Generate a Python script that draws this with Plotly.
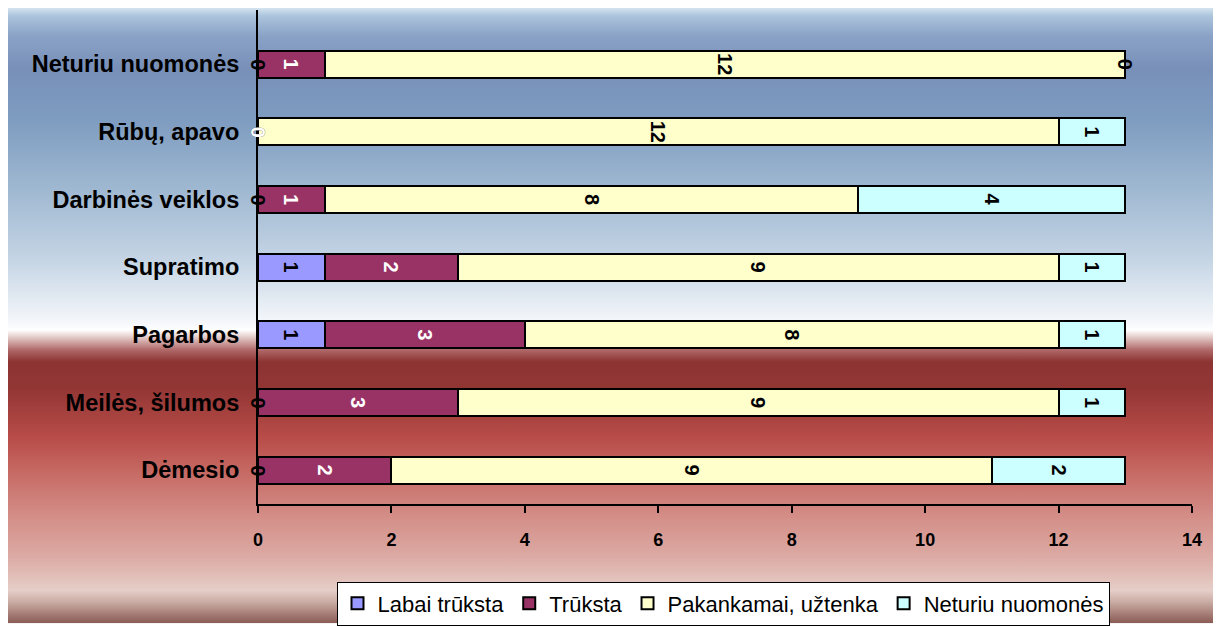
import base64
import plotly.graph_objects as go

categories = ["Dėmesio", "Meilės, šilumos", "Pagarbos", "Supratimo",
              "Darbinės veiklos", "Rūbų, apavo", "Neturiu nuomonės"]
series_names = ["Labai trūksta", "Trūksta", "Pakankamai, užtenka", "Neturiu nuomonės"]
labai_truksta = [0, 0, 1, 1, 0, 0, 0]
truksta = [2, 3, 3, 2, 1, 0, 1]
pakankamai = [9, 9, 8, 9, 8, 12, 12]
neturiu = [2, 1, 1, 1, 4, 1, 0]
x_ticks = [0, 2, 4, 6, 8, 10, 12, 14]

series_values = [labai_truksta, truksta, pakankamai, neturiu]
colors = ["#9999ff", "#993366", "#ffffcc", "#ccffff"]
text_colors = ["black", "white", "black", "black"]

# Figure geometry (page has an 8px body margin)
W, H = 1213, 619
L, R, T, B = 250, 29, 2, 120
pw, ph = W - L - R, H - T - B

fig = go.Figure()
annotations = []
base = [0] * len(categories)
for name, vals, col, tcol in zip(series_names, series_values, colors, text_colors):
    fig.add_trace(go.Bar(
        name=name, y=categories, x=vals, orientation="h",
        marker=dict(color=col, line=dict(color="black", width=2)),
        text=[str(v) if v else "" for v in vals],
        textposition="inside", insidetextanchor="middle",
        textangle=90, constraintext="none",
        textfont=dict(family="Arial", size=20, color=tcol, weight="bold"),
        hoverinfo="skip",
    ))
    for i, v in enumerate(vals):
        if v == 0:
            annotations.append(dict(
                x=base[i], y=categories[i], xref="x", yref="y", text="0",
                showarrow=False, textangle=90,
                font=dict(family="Arial", size=20, color=tcol, weight="bold"),
            ))
    base = [b + v for b, v in zip(base, vals)]

# Background gradient (SVG), y in figure pixels
stops = [
    (0, "#d4e4f0"), (8, "#acc4dc"), (28, "#8aa2c6"), (62, "#7890b8"),
    (112, "#7e9cc0"), (192, "#a4bcd4"), (252, "#c4d4e4"), (292, "#e2eaf2"),
    (318, "#f6f8fb"), (324, "#ffffff"), (330, "#e8d4d2"), (344, "#b06868"),
    (356, "#8c3432"), (382, "#923634"), (432, "#b84c48"), (472, "#c86e68"),
    (512, "#d48e88"), (552, "#dcaaa4"), (586, "#e6cec8"), (598, "#c8aaa2"),
    (619, "#8a5a54"),
]
stop_xml = "".join(
    f'<stop offset="{y / H:.4f}" stop-color="{c}"/>' for y, c in stops)
svg = (f'<svg xmlns="http://www.w3.org/2000/svg" width="{W}" height="{H}" '
       f'viewBox="0 0 {W} {H}" preserveAspectRatio="none">'
       f'<defs><linearGradient id="g" x1="0" y1="0" x2="0" y2="1">{stop_xml}'
       f'</linearGradient></defs><rect width="{W}" height="{H}" fill="url(#g)"/></svg>')
src = "data:image/svg+xml;base64," + base64.b64encode(svg.encode()).decode()

fig.update_layout(
    width=W, height=H,
    margin=dict(l=L, r=R, t=T, b=B, pad=0),
    barmode="stack", bargap=0.6,
    paper_bgcolor="white", plot_bgcolor="rgba(0,0,0,0)",
    font=dict(family="Arial", color="black"),
    images=[dict(source=src, xref="paper", yref="paper", x=-L / pw, y=(H - B) / ph,
                 sizex=W / pw, sizey=H / ph, xanchor="left", yanchor="top",
                 sizing="stretch", layer="below")],
    xaxis=dict(range=[0, 14], tickvals=x_ticks, ticktext=[str(t) for t in x_ticks],
               showgrid=False, zeroline=False, showline=True, linecolor="black",
               linewidth=2, ticks="outside", ticklen=7, tickwidth=2, tickcolor="black",
               ticklabelstandoff=11,
               tickfont=dict(family="Arial", size=18, color="black", weight="bold")),
    yaxis=dict(categoryorder="array", categoryarray=categories,
               range=[-0.5, 6.80], showgrid=False, zeroline=False, showline=True,
               linecolor="black", linewidth=2, ticks="", ticklabelstandoff=12,
               tickfont=dict(family="Arial", size=23.5, color="black", weight="bold")),
    legend=dict(orientation="h", x=(715 - L) / pw, y=(H - B - 577) / ph, xanchor="center",
                yanchor="top", bgcolor="white", bordercolor="black", borderwidth=1,
                font=dict(family="Arial", size=22, color="black"),
                itemwidth=30, traceorder="normal"),
    annotations=annotations,
    showlegend=True,
)

fig.write_html("out.html")
